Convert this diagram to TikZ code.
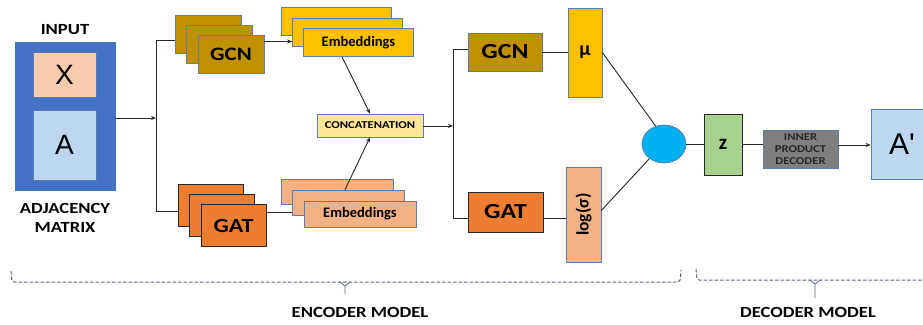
\documentclass[tikz,border=0pt]{standalone}
\usepackage{fontspec}
\usepackage{graphicx}
\setmainfont{Carlito}
\newfontfamily\widefont{Carlito}[FakeStretch=1.2]
\newfontfamily\arialfont{Liberation Sans}
\usetikzlibrary{
    positioning,      % relative placement
    arrows.meta,      % arrow tips
    calc,             % shifted stack copies
    shapes.geometric  % ellipse
}

\definecolor{inputblue}{HTML}{4472C4}
\definecolor{edgeblue}{HTML}{5B7DB5}
\definecolor{xpeach}{HTML}{F8CBAD}
\definecolor{alightblue}{HTML}{BDD7EE}
\definecolor{gcngold}{HTML}{BF9000}
\definecolor{gatorange}{HTML}{ED7D31}
\definecolor{embyellow}{HTML}{FFC000}
\definecolor{embsalmon}{HTML}{F4B183}
\definecolor{concatyellow}{HTML}{FFE699}
\definecolor{circcyan}{HTML}{00B0F0}
\definecolor{zgreen}{HTML}{A9D18E}
\definecolor{decgray}{HTML}{7F7F7F}
\definecolor{linedark}{HTML}{262626}
\definecolor{bracegray}{HTML}{56657F}

\begin{document}
\begin{tikzpicture}[
    x=1pt, y=-1pt,
    % Global style settings
    box_size/.style 2 args={minimum width=#1pt, minimum height=#2pt},
    box_style/.style={
        draw=edgeblue,
        line width=0.7pt,
        inner sep=0pt,
        align=center,
        text=black
    },
    gcn_style/.style={box_style, fill=gcngold, font=\widefont\bfseries\fontsize{19}{21}\selectfont},
    gat_style/.style={box_style, fill=gatorange, draw=linedark, font=\widefont\bfseries\fontsize{20}{22}\selectfont},
    emb_top_style/.style={box_style, fill=embyellow, font=\bfseries\fontsize{14.5}{16}\selectfont},
    emb_bot_style/.style={box_style, fill=embsalmon, font=\bfseries\fontsize{14.5}{16}\selectfont},
    letter_style/.style={box_style, font=\arialfont\fontsize{28}{30}\selectfont},
    label_style/.style={font=\widefont\bfseries\fontsize{15.5}{19}\selectfont, align=center, inner sep=0pt},
    link_style/.style={draw=linedark, line width=0.9pt},
    arrow_tip/.style={
        link_style,
        -{Stealth[length=5pt, width=4pt]}
    },
    brace_style/.style={draw=bracegray, line width=1pt, dash pattern=on 3.5pt off 2pt, rounded corners=2pt}
]
    \useasboundingbox (0,0) rectangle (923,324);

    % 1. Input block with X and A.
    \node[box_style, fill=inputblue, draw=inputblue, box_size={100}{148}] (input) at (65,116) {};
    \node[label_style] (inputlabel) at (65,30) {INPUT};
    \node[letter_style, fill=xpeach, box_size={63}{45}] (xnode) at (64.5,74.5) {X};
    \node[letter_style, fill=alightblue, box_size={63}{70}] (anode) at (64.5,145) {A};
    \node[label_style] (adjlabel) at (65,218) {ADJACENCY\\[0pt]MATRIX};

    % 2. GCN and GAT stacks, each drawn back to front.
    \node[gcn_style, box_size={66}{38}] (gcnA) at (208,34) {};
    \node[gcn_style, box_size={66}{38}] (gcnB) at ($(gcnA)+(11.5,10)$) {};
    \node[gcn_style, box_size={66}{38}] (gcnC) at ($(gcnB)+(11.5,10)$) {GCN};

    \node[gat_style, box_size={65}{42}] (gatA) at (210.5,205) {};
    \node[gat_style, box_size={65}{42}] (gatB) at ($(gatA)+(11.5,10.3)$) {};
    \node[gat_style, box_size={65}{42}] (gatC) at ($(gatB)+(11.5,10.3)$) {GAT};

    % 3. Embedding stacks and the concatenation box.
    \node[emb_top_style, box_size={110}{28}] (embA) at (336.5,21.5) {};
    \node[emb_top_style, box_size={110}{28}] (embB) at ($(embA)+(11,10.5)$) {};
    \node[emb_top_style, box_size={110}{28}] (embC) at ($(embB)+(11,10.5)$) {Embeddings};

    \node[emb_bot_style, box_size={112}{25}] (embD) at (337.5,192) {};
    \node[emb_bot_style, box_size={112}{25}] (embE) at ($(embD)+(11,10.5)$) {};
    \node[emb_bot_style, box_size={112}{26}] (embF) at ($(embE)+(11.5,11.5)$) {Embeddings};

    \node[box_style, fill=concatyellow, box_size={106}{23}, font=\widefont\bfseries\fontsize{10.5}{12}\selectfont] (concat) at (370,125.5) {CONCATENATION};

    % 4. Second GCN / GAT, mu and log(sigma).
    \node[gcn_style, box_size={74}{38}, font=\widefont\bfseries\fontsize{21.5}{23}\selectfont] (gcnTwo) at (505,52) {GCN};
    \node[gat_style, box_size={75}{40}, font=\widefont\bfseries\fontsize{21.5}{23}\selectfont] (gatTwo) at (505.5,212) {GAT};
    \node[box_style, fill=embyellow, box_size={34}{89}, font=\bfseries\fontsize{20}{22}\selectfont] (mu) at (585,52.5) {μ};
    \node[box_style, fill=embsalmon, box_size={35}{95}, font=\bfseries\fontsize{17.5}{19}\selectfont] (logsig) at (583.5,214.5) {\rotatebox{90}{log(σ)}};

    % 5. Sampling, z, decoder and output.
    \node[ellipse, draw=edgeblue, fill=circcyan, line width=0.7pt, box_size={44}{38}, inner sep=0pt] (circ) at (664,144) {};
    \node[box_style, draw=linedark, fill=zgreen, box_size={38}{61}, font=\bfseries\fontsize{21}{23}\selectfont] (znode) at (723,144.5) {z};
    \node[box_style, fill=decgray, box_size={75}{38}, text=linedark, font=\widefont\bfseries\fontsize{10.5}{12.3}\selectfont] (decoder) at (800.5,149) {INNER\\PRODUCT\\DECODER};
    \node[letter_style, fill=alightblue, box_size={62}{70}, font=\arialfont\fontsize{30}{32}\selectfont] (aprime) at (902,144) {A'};

    % 6. Connectors.
    \coordinate (split) at (156,118);
    \coordinate (splittop) at (156,40);
    \coordinate (splitbot) at (156,211);
    \draw[arrow_tip] (input.east |- split) -- (split);
    \draw[link_style] (splittop) -- (splitbot);
    \draw[link_style] (splittop) -- (splittop -| gcnA.west);
    \draw[link_style] (splitbot) -- (splitbot -| gatA.west);

    \draw[arrow_tip] ([yshift=12.5pt]gcnC.east) coordinate (gcnout) -- (gcnout -| embB.west);
    \draw[link_style] ([yshift=13.5pt]gatC.east) coordinate (gatout) -- (gatout -| embE.west);

    \draw[arrow_tip] ([xshift=-16.5pt]embC.south) -- (concat.north);
    \draw[arrow_tip] ([xshift=-3.5pt]embE.north) -- (concat.south);

    \coordinate (merge) at (453,126);
    \coordinate (mergetop) at (453,49);
    \coordinate (mergebot) at (453,218);
    \draw[arrow_tip] (concat.east |- merge) -- (merge);
    \draw[link_style] (mergetop) -- (mergebot);
    \draw[link_style] (mergetop) -- (mergetop -| gcnTwo.west);
    \draw[link_style] (mergebot) -- (mergebot -| gatTwo.west);

    \draw[link_style] (gcnTwo.east |- mu.west) -- (mu.west);
    \draw[link_style] (gatTwo.east |- mergebot) -- (mergebot -| logsig.west);
    \draw[link_style] (mu.east) -- (circ.115);
    \draw[link_style] ([yshift=4pt]logsig.east) -- (circ.225);
    \draw[link_style] (circ.east) -- (znode.west |- circ.east);
    \draw[link_style] (znode.east) -- (znode.east -| decoder.west);
    \draw[arrow_tip] ([yshift=4pt]decoder.east) coordinate (decout) -- (decout -| aprime.west);

    % 7. Dashed braces and model labels.
    \draw[brace_style] (11,271) -- (12,282) -- (680,282) -- (681,270);
    \draw[bracegray, line width=0.8pt] (340,282) -- (345,286) -- (350,282) (345,286) -- (345,294);
    \node[label_style] (enclabel) at (360,312) {ENCODER MODEL};

    \draw[brace_style] (696,269) -- (697,280) -- (935,280);
    \draw[bracegray, line width=0.8pt] (810,280) -- (815,284) -- (820,280) (815,284) -- (815,298);
    \node[label_style] (declabel) at (808,312) {DECODER MODEL};
\end{tikzpicture}
\end{document}
